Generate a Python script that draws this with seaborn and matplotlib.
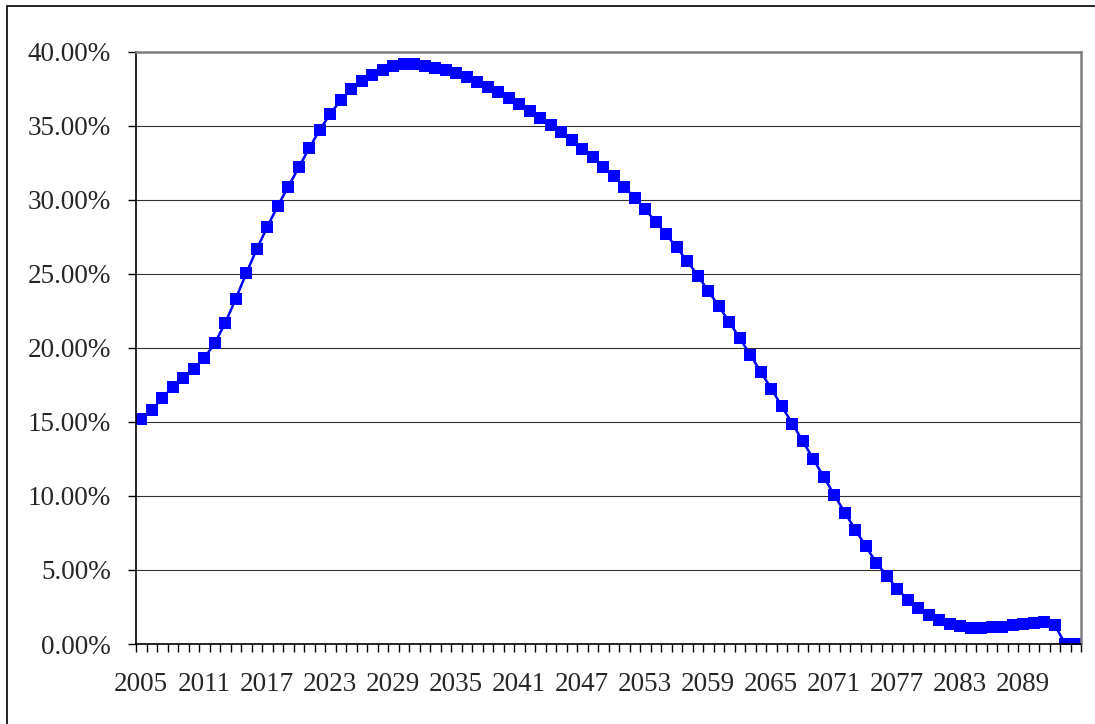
import matplotlib
matplotlib.use("Agg")
import matplotlib.pyplot as plt
import matplotlib.ticker as mticker
from matplotlib.patches import Rectangle
import seaborn as sns
import pandas as pd

sns.set_style("white")
plt.rcParams['font.family'] = ['Liberation Serif', 'DejaVu Serif']

years = list(range(2005, 2095))
share_pct = [
    15.18, 15.77, 16.62, 17.36, 17.97, 18.54, 19.32, 20.30, 21.69, 23.31,
    25.03, 26.67, 28.16, 29.59, 30.88, 32.19, 33.49, 34.73, 35.79, 36.74,
    37.48, 38.04, 38.45, 38.76, 39.03, 39.19, 39.19, 39.05, 38.88, 38.76,
    38.54, 38.27, 37.95, 37.61, 37.26, 36.87, 36.45, 35.99, 35.54, 35.05,
    34.55, 34.03, 33.45, 32.86, 32.23, 31.58, 30.86, 30.14, 29.35, 28.51,
    27.66, 26.78, 25.86, 24.88, 23.85, 22.82, 21.75, 20.65, 19.54, 18.38,
    17.25, 16.06, 14.89, 13.70, 12.50, 11.28, 10.07, 8.88, 7.73, 6.60,
    5.50, 4.62, 3.72, 3.00, 2.43, 1.96, 1.62, 1.35, 1.20, 1.11,
    1.11, 1.13, 1.17, 1.26, 1.33, 1.40, 1.49, 1.28, 0.00, 0.00,
]
label_years = list(range(2005, 2095, 6))

df = pd.DataFrame({"year": years, "share": [v / 100 for v in share_pct]})

fig = plt.figure(figsize=(10.95, 7.24), dpi=100)
ax = fig.add_axes([136 / 1095, 1 - 644 / 724, (1081 - 136) / 1095, (644 - 51.7) / 724])

sns.lineplot(data=df, x="year", y="share", ax=ax, color="#0000FF",
             linewidth=1.8, marker="s", markersize=8, markeredgewidth=0)

ax.set_xlim(2004.5, 2094.5)
ax.set_ylim(0, 0.40)
ax.set_xlabel("")
ax.set_ylabel("")

ax.yaxis.set_major_locator(mticker.MultipleLocator(0.05))
ax.yaxis.set_major_formatter(mticker.PercentFormatter(1.0, decimals=2))
ax.set_xticks(label_years)
ax.set_xticklabels([str(y) for y in label_years])
ax.set_xticks([y - 0.5 for y in years] + [2094.5], minor=True)

ax.tick_params(axis="x", which="major", length=0, pad=20, labelsize=19.5)
ax.tick_params(axis="x", which="minor", length=6, width=1, color="black",
               direction="out", bottom=True)
ax.tick_params(axis="y", which="major", length=6, width=1, color="black",
               direction="out", left=True, pad=12, labelsize=19.5)

ax.grid(axis="y", color="#303030", linewidth=0.8)
ax.grid(axis="x", visible=False)

for side in ["left", "bottom"]:
    ax.spines[side].set_color("black")
    ax.spines[side].set_linewidth(1.2)
for side in ["top", "right"]:
    ax.spines[side].set_color("#808080")
    ax.spines[side].set_linewidth(1.8)

# outer chart border
fig.patches.append(Rectangle((6.5 / 1095, -0.1), 1.2, 1.1 - 6.5 / 724,
                             transform=fig.transFigure, fill=False,
                             edgecolor="black", linewidth=1.2))

fig.savefig("out.png", dpi=100)
